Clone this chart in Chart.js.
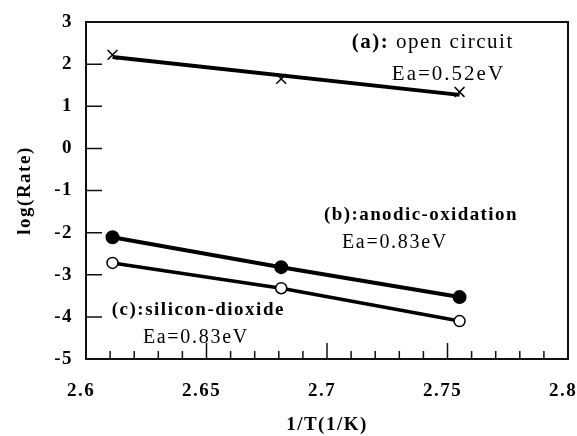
<!DOCTYPE html>
<html>
<head>
<meta charset="utf-8">
<script src="https://cdn.jsdelivr.net/npm/chart.js@4/dist/chart.umd.min.js"></script>
<style>
  html, body { margin: 0; padding: 0; background: #fff; }
  #wrap { width: 577px; height: 436px; }
</style>
</head>
<body>
<div id="wrap"><canvas id="chart" width="577" height="436"></canvas></div>
<script>
// 1/T (x1000, 1/K) for 110, 100 and 90 C
var invT = [2.611, 2.681, 2.755];
var openCircuit = [2.22, 1.65, 1.34];
var openCircuitFitX = [2.611, 2.755];
var openCircuitFit = [2.17, 1.27];
var anodicOxidation = [-2.11, -2.82, -3.53];
var siliconDioxide = [-2.72, -3.32, -4.10];

var xTicks = [2.6, 2.65, 2.7, 2.75, 2.8];
var yTicks = [-5, -4, -3, -2, -1, 0, 1, 2, 3];

// annotation text, anchored in data units (left edge, baseline)
var notes = [
    { parts: [['(a): ', 'bold'], ['open circuit', 'normal']], x: 2.7103, y: 2.38, size: 21, spacing: 1.5 },
    { parts: [['Ea=0.52eV', 'normal']], x: 2.7269, y: 1.62, size: 21, spacing: 2 },
    { parts: [['(b):anodic-oxidation', 'bold']], x: 2.6988, y: -1.70, size: 19, spacing: 1.4 },
    { parts: [['Ea=0.83eV', 'normal']], x: 2.7062, y: -2.37, size: 20, spacing: 1.7 },
    { parts: [['(c):silicon-dioxide', 'bold']], x: 2.6107, y: -3.96, size: 19, spacing: 1.5 },
    { parts: [['Ea=0.83eV', 'normal']], x: 2.6236, y: -4.62, size: 20, spacing: 1.7 }
];

var FONT = "'Liberation Serif', 'Times New Roman', serif";
Chart.defaults.font.family = FONT;
Chart.defaults.color = '#000';

function pairs(xs, ys) {
    return xs.map(function(x, i) { return { x: x, y: ys[i] }; });
}

var framePlugin = {
    id: 'frame',
    beforeDraw: function(chart) {
        // the scanned figure has loose letter spacing everywhere
        chart.ctx.letterSpacing = '1.5px';
    },
    afterDraw: function(chart) {
        var ctx = chart.ctx;
        var area = chart.chartArea;
        var xs = chart.scales.x;
        var ys = chart.scales.y;
        ctx.save();
        ctx.strokeStyle = '#111';
        ctx.lineWidth = 2;
        ctx.strokeRect(area.left, area.top, area.right - area.left, area.bottom - area.top);

        // inward ticks
        ctx.lineWidth = 1.5;
        ctx.beginPath();
        for (var i = 1; i < 20; i++) {
            var px = xs.getPixelForValue(2.6 + i * 0.01);
            var len = (i % 5 === 0) ? 16 : 8;
            ctx.moveTo(px, area.bottom);
            ctx.lineTo(px, area.bottom - len);
        }
        yTicks.forEach(function(v) {
            if (v === yTicks[0] || v === yTicks[yTicks.length - 1]) return;
            var py = ys.getPixelForValue(v);
            ctx.moveTo(area.left, py);
            ctx.lineTo(area.left + 16, py);
        });
        ctx.stroke();

        // annotations
        ctx.fillStyle = '#000';
        ctx.textBaseline = 'alphabetic';
        ctx.textAlign = 'left';
        notes.forEach(function(n) {
            var px = xs.getPixelForValue(n.x);
            var py = ys.getPixelForValue(n.y);
            ctx.letterSpacing = n.spacing + 'px';
            n.parts.forEach(function(p) {
                ctx.font = p[1] + ' ' + n.size + 'px ' + FONT;
                ctx.fillText(p[0], px, py);
                px += ctx.measureText(p[0]).width;
            });
        });
        ctx.restore();
    }
};

new Chart(document.getElementById('chart'), {
    type: 'scatter',
    data: {
        datasets: [
            {
                label: '(a) open circuit',
                data: pairs(invT, openCircuit),
                showLine: false,
                pointStyle: 'crossRot',
                pointRadius: 7,
                borderColor: '#000',
                borderWidth: 1.5
            },
            {
                label: '(a) fit',
                data: pairs(openCircuitFitX, openCircuitFit),
                showLine: true,
                pointRadius: 0,
                borderColor: '#000',
                borderWidth: 4
            },
            {
                label: '(b) anodic-oxidation',
                data: pairs(invT, anodicOxidation),
                showLine: true,
                pointStyle: 'circle',
                pointRadius: 5,
                pointBackgroundColor: '#000',
                pointBorderColor: '#000',
                borderColor: '#000',
                borderWidth: 4
            },
            {
                label: '(c) silicon-dioxide',
                data: pairs(invT, siliconDioxide),
                showLine: true,
                pointStyle: 'circle',
                pointRadius: 5.5,
                pointBackgroundColor: '#fff',
                pointBorderColor: '#000',
                pointBorderWidth: 1.5,
                borderColor: '#000',
                borderWidth: 3.5
            }
        ]
    },
    options: {
        responsive: false,
        animation: false,
        layout: { padding: { top: 22, right: 9, left: 4, bottom: 0 } },
        plugins: {
            legend: { display: false },
            tooltip: { enabled: false }
        },
        scales: {
            x: {
                type: 'linear',
                min: 2.6,
                max: 2.8,
                afterBuildTicks: function(scale) {
                    scale.ticks = xTicks.map(function(v) { return { value: v }; });
                },
                afterFit: function(scale) {
                    scale.height = 77;
                    scale.paddingLeft = 0;
                    scale.paddingRight = 0;
                },
                grid: { display: false, drawTicks: false },
                border: { display: false },
                ticks: {
                    padding: 21,
                    labelOffset: -5,
                    font: { size: 19, weight: 'bold' },
                    callback: function(v) { return String(+v.toFixed(2)); }
                },
                title: {
                    display: true,
                    text: '1/T(1/K)',
                    font: { size: 19, weight: 'bold' },
                    padding: { top: 0, bottom: 0 }
                }
            },
            y: {
                type: 'linear',
                min: -5,
                max: 3,
                afterBuildTicks: function(scale) {
                    scale.ticks = yTicks.map(function(v) { return { value: v }; });
                },
                afterFit: function(scale) {
                    scale.width = 82;
                    scale.paddingTop = 0;
                    scale.paddingBottom = 0;
                },
                grid: { display: false, drawTicks: false },
                border: { display: false },
                ticks: {
                    padding: 13,
                    font: { size: 19, weight: 'bold' }
                },
                title: {
                    display: true,
                    text: 'log(Rate)',
                    font: { size: 19, weight: 'bold' },
                    padding: { top: 10, bottom: 0 }
                }
            }
        }
    },
    plugins: [framePlugin]
});
</script>
</body>
</html>
